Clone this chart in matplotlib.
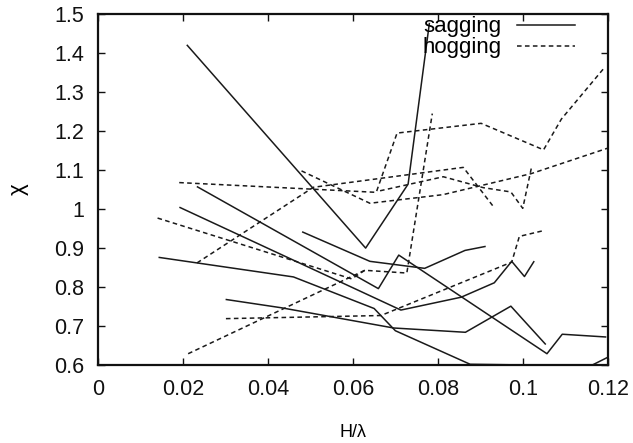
import numpy as np
import matplotlib
matplotlib.use("Agg")
import matplotlib.pyplot as plt

# wave steepness H/lambda against chi, one curve per test case
sag1_x = [0.021, 0.063, 0.073, 0.078]
sag1_y = [1.42, 0.90, 1.064, 1.476]
sag2_x = [0.0234, 0.066, 0.0708, 0.1057, 0.1093, 0.1195]
sag2_y = [1.057, 0.796, 0.882, 0.629, 0.679, 0.672]
sag3_x = [0.0193, 0.0713, 0.0855, 0.0933, 0.0974, 0.1004, 0.1026]
sag3_y = [1.004, 0.741, 0.774, 0.811, 0.866, 0.827, 0.865]
sag4_x = [0.0482, 0.064, 0.0769, 0.0864, 0.0911]
sag4_y = [0.941, 0.866, 0.848, 0.894, 0.904]
sag5_x = [0.0144, 0.046, 0.065, 0.070, 0.0876, 0.116, 0.1206]
sag5_y = [0.876, 0.826, 0.745, 0.688, 0.602, 0.598, 0.623]
sag6_x = [0.0302, 0.0431, 0.0696, 0.0865, 0.0972, 0.1002, 0.1053]
sag6_y = [0.768, 0.747, 0.695, 0.684, 0.751, 0.715, 0.654]

hog1_x = [0.0191, 0.0655, 0.0704, 0.0902, 0.1049, 0.1091, 0.1194]
hog1_y = [1.068, 1.043, 1.195, 1.22, 1.152, 1.231, 1.365]
hog2_x = [0.0233, 0.0507, 0.086, 0.0929]
hog2_y = [0.862, 1.056, 1.107, 1.009]
hog3_x = [0.0212, 0.0628, 0.0727, 0.0787]
hog3_y = [0.629, 0.843, 0.836, 1.245]
hog4_x = [0.0301, 0.0666, 0.0974, 0.0992, 0.1046]
hog4_y = [0.719, 0.727, 0.864, 0.930, 0.944]
hog5_x = [0.014, 0.0597, 0.0628]
hog5_y = [0.977, 0.821, 0.843]
hog6_x = [0.0479, 0.064, 0.0812, 0.102, 0.1202]
hog6_y = [1.098, 1.015, 1.037, 1.091, 1.157]
hog7_x = [0.0664, 0.0813, 0.0907, 0.0972, 0.1, 0.102]
hog7_y = [1.047, 1.083, 1.055, 1.044, 1.002, 1.104]

sagging = [(sag1_x, sag1_y), (sag2_x, sag2_y), (sag3_x, sag3_y),
           (sag4_x, sag4_y), (sag5_x, sag5_y), (sag6_x, sag6_y)]
hogging = [(hog1_x, hog1_y), (hog2_x, hog2_y), (hog3_x, hog3_y),
           (hog4_x, hog4_y), (hog5_x, hog5_y), (hog6_x, hog6_y),
           (hog7_x, hog7_y)]

xticks = [0, 0.02, 0.04, 0.06, 0.08, 0.1, 0.12]
xtick_labels = ["0", "0.02", "0.04", "0.06", "0.08", "0.1", "0.12"]
yticks = [0.6, 0.7, 0.8, 0.9, 1.0, 1.1, 1.2, 1.3, 1.4, 1.5]
ytick_labels = ["0.6", "0.7", "0.8", "0.9", "1", "1.1", "1.2", "1.3", "1.4", "1.5"]

plt.rcParams['font.family'] = ['Liberation Sans', 'DejaVu Sans']

fig = plt.figure(figsize=(6.33, 4.43), dpi=100)
ax = fig.add_axes([0.155, 0.176, 0.805, 0.792])

line_col = "#1a1a1a"
dash = (0, (3.0, 2.2))

for i, (xs, ys) in enumerate(sagging):
    ax.plot(xs, ys, color=line_col, lw=1.1, ls="-",
            label="sagging" if i == 0 else None)
for i, (xs, ys) in enumerate(hogging):
    ax.plot(xs, ys, color=line_col, lw=1.1, ls=dash,
            label="hogging" if i == 0 else None)

ax.set_xlim(0, 0.12)
ax.set_ylim(0.6, 1.5)
ax.set_xticks(xticks)
ax.set_xticklabels(xtick_labels)
ax.set_yticks(yticks)
ax.set_yticklabels(ytick_labels)
ax.tick_params(direction="in", top=True, right=True, length=5, width=1.0,
               labelsize=15.5, pad=10, colors="#111111")
for sp in ax.spines.values():
    sp.set_linewidth(1.6)
    sp.set_color("#111111")

ax.set_xlabel("H/λ", fontsize=13, labelpad=17)
ax.set_ylabel("χ", fontsize=16, labelpad=18)

leg = ax.legend(loc="upper right", bbox_to_anchor=(0.94, 1.0), frameon=False,
                markerfirst=False, fontsize=16, handlelength=2.6,
                handletextpad=0.7, labelspacing=0.0, borderaxespad=0.0,
                borderpad=0.1)

fig.savefig("out.png", dpi=100)
